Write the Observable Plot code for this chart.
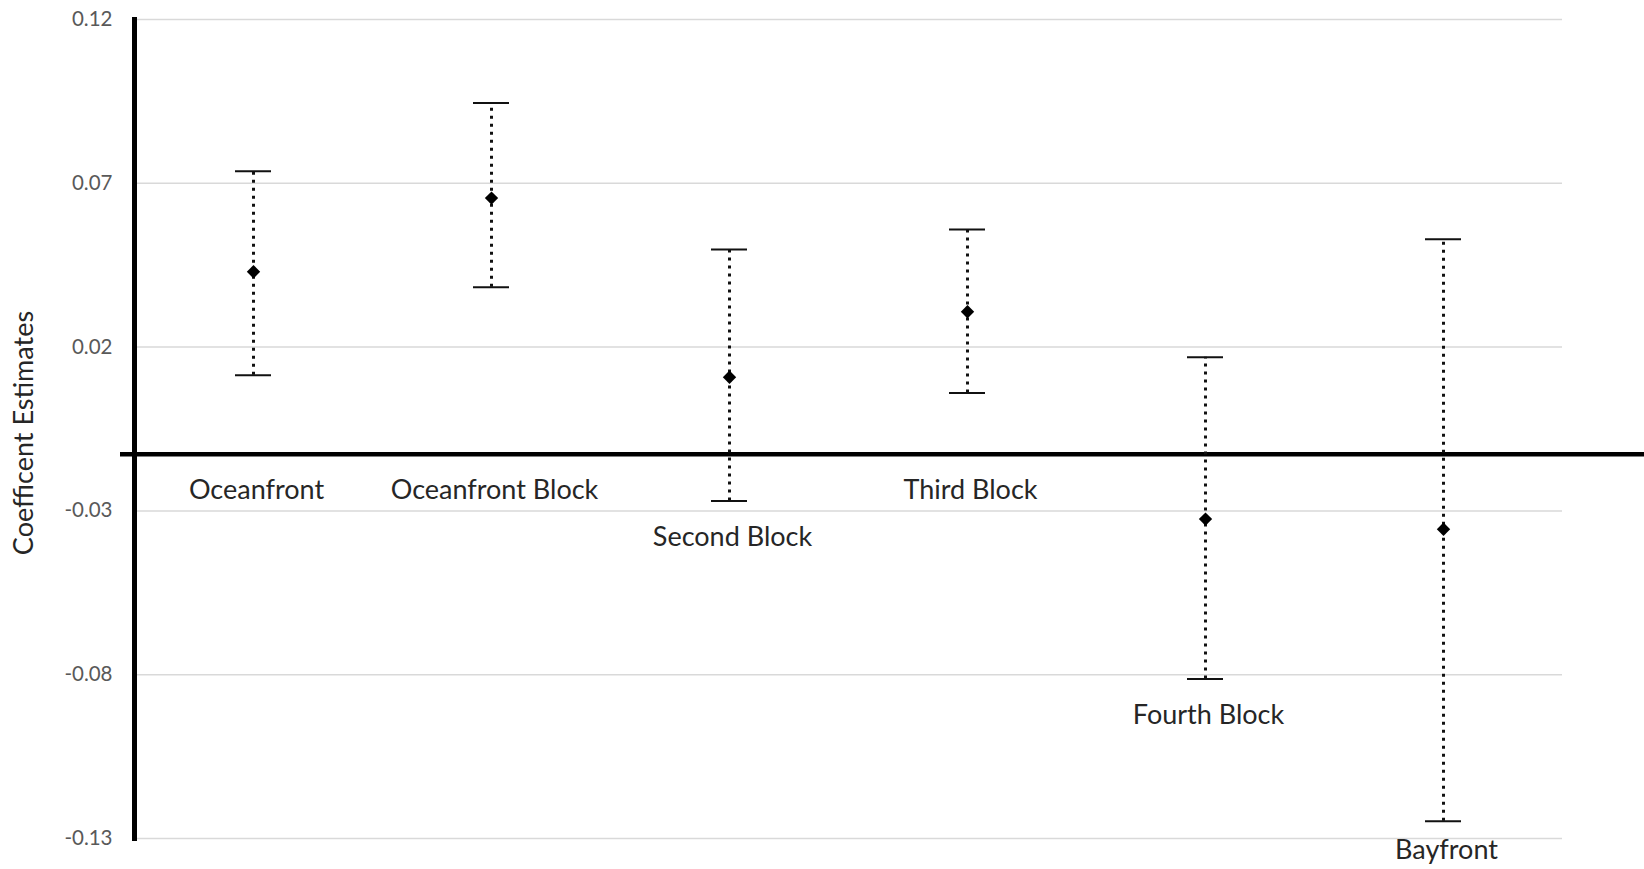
<!DOCTYPE html>
<html>
<head>
<meta charset="utf-8">
<script src="https://cdn.jsdelivr.net/npm/d3@7"></script>
<script src="https://cdn.jsdelivr.net/npm/@observablehq/plot@0.6"></script>
<style>
  html, body { margin: 0; padding: 0; background: #fff; }
  #chart svg { display: block; font-family: Lato, "Open Sans", sans-serif; }
</style>
</head>
<body>
<div id="chart"></div>
<script>
const categories = ["Oceanfront", "Oceanfront Block", "Second Block", "Third Block", "Fourth Block", "Bayfront"];
const estimates = [0.0430, 0.0655, 0.0108, 0.0308, -0.0325, -0.0356];
const upper = [0.0737, 0.0945, 0.0498, 0.0559, 0.0169, 0.0529];
const lower = [0.0114, 0.0383, -0.0270, 0.0060, -0.0813, -0.1247];
const yTicks = [0.12, 0.07, 0.02, -0.03, -0.08, -0.13];
const axisCross = -0.0127;
const yTitle = "Coefficent Estimates";

const data = categories.map((c, i) => ({cat: c, est: estimates[i], hi: upper[i], lo: lower[i]}));
const yMin = d3.min(yTicks), yMax = d3.max(yTicks);
// label sits just below the lower of (error bar bottom, horizontal axis), kept inside the chart
const labelY = d => Math.max(Math.min(d.lo, axisCross) - 0.011, yMin - 0.0035);

const chart = Plot.plot({
  width: 1644,
  height: 869,
  marginLeft: 134,
  marginRight: 82,
  marginTop: 19,
  marginBottom: 31,
  style: {fontFamily: "Lato, 'Open Sans', sans-serif", background: "#fff"},
  x: {type: "band", domain: categories, padding: 0, axis: null},
  y: {domain: [yMin, yMax], axis: null},
  marks: [
    Plot.gridY(yTicks, {stroke: "#d9d9d9", strokeOpacity: 1, strokeWidth: 1.5}),
    Plot.axisY(yTicks, {
      tickSize: 0, tickPadding: 22, fontSize: 20.5, color: "#595959",
      tickFormat: d => d.toFixed(2), label: null
    }),
    Plot.ruleY([axisCross], {stroke: "black", strokeWidth: 4.5, insetLeft: -14, insetRight: -82}),
    Plot.ruleX(data, {x: "cat", y1: "lo", y2: "hi", stroke: "#111", strokeWidth: 3, strokeDasharray: "3,5"}),
    Plot.tickY(data, {x: "cat", y: "hi", stroke: "#111", strokeWidth: 2, insetLeft: 101, insetRight: 101}),
    Plot.tickY(data, {x: "cat", y: "lo", stroke: "#111", strokeWidth: 2, insetLeft: 101, insetRight: 101}),
    Plot.dot(data, {x: "cat", y: "est", symbol: "diamond2", r: 6, fill: "black", stroke: "none"}),
    Plot.frame({anchor: "left", stroke: "black", strokeWidth: 5}),
    Plot.text(data, {x: "cat", y: labelY, text: "cat", fontSize: 27, fill: "#262626", dx: 3}),
    Plot.text([yTitle], {frameAnchor: "left", textAnchor: "middle", dx: -110, dy: 4, rotate: -90, fontSize: 27, fill: "#262626"})
  ]
});
document.getElementById("chart").appendChild(chart);
</script>
</body>
</html>
